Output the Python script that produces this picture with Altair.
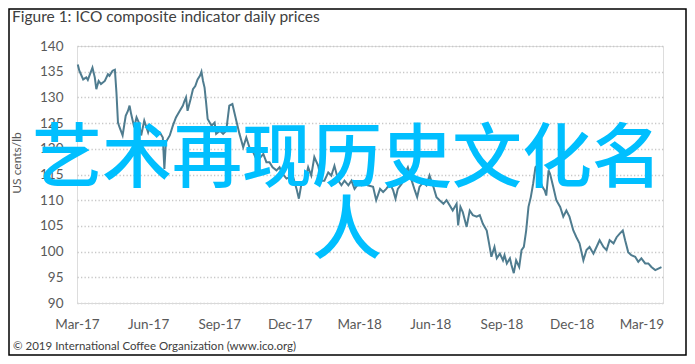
import altair as alt
import pandas as pd

# Days since 1 Mar 2017 and composite indicator price, US cents/lb
days = [1,3,8,12,14,20,23,25,28,31,36,40,42,46,49,51,53,55,59,63,
        66,68,70,72,74,77,80,83,87,92,94,98,102,107,111,113,115,120,124,128,
        133,137,139,141,143,147,150,153,156,159,161,163,165,167,169,174,178,180,185,189,
        193,197,201,206,210,215,219,223,228,232,236,241,245,249,253,258,262,266,271,275,
        279,284,287,290,295,299,303,307,312,316,320,325,329,333,338,342,346,351,355,359,
        364,368,372,376,383,387,392,396,400,405,409,412,415,420,424,428,433,437,440,443,
        448,452,456,461,465,469,474,478,482,486,491,493,496,499,504,508,512,517,521,525,
        530,533,536,540,543,547,551,553,556,560,562,565,568,572,575,578,581,584,587,590,
        593,595,599,602,605,607,610,612,616,620,625,629,633,637,642,646,650,655,659,663,
        668,672,676,681,685,689,694,698,702,706,709,713,717,722,726,730,735,739,743,748,
        752,756]
price = [136.4,135.2,133.5,133.9,133.4,135.8,133.9,131.6,133.2,132.6,
         133.2,134.5,134.2,135.2,135.4,131.0,125.1,124.2,122.6,126.4,
         127.4,128.4,126.8,125.5,124.2,126.1,125.1,122.6,125.5,123.2,
         124.2,123.2,123.5,123.2,122.2,116.1,121.3,122.6,124.5,126.1,
         127.4,128.4,129.3,130.0,127.4,129.7,131.6,132.2,133.5,134.2,
         135.0,133.2,131.9,129.0,125.8,124.5,125.1,122.9,123.5,122.9,
         123.5,128.4,128.7,125.5,123.0,120.3,122.2,120.3,119.3,118.0,
         118.1,119.0,117.4,117.4,116.4,115.8,116.4,115.1,114.2,114.5,
         114.8,112.2,110.3,112.9,113.8,116.4,114.8,118.4,116.7,113.8,
         113.8,115.4,114.8,116.7,113.8,112.9,113.8,112.9,113.8,112.2,
         113.2,112.9,113.5,112.9,112.6,110.0,112.2,111.6,112.2,113.2,
         111.9,110.3,112.2,113.2,115.1,116.4,113.8,111.9,110.6,112.6,
         113.5,112.9,114.8,112.6,110.6,110.0,109.3,110.0,109.0,108.0,
         109.3,105.1,108.7,107.7,104.8,108.0,107.1,106.8,107.1,105.4,
         104.1,101.6,99.0,100.9,98.7,99.6,98.3,99.3,97.7,98.7,
         97.4,95.8,98.3,97.0,100.3,100.9,104.1,108.7,110.6,113.2,
         116.4,116.7,113.8,112.6,111.9,110.9,115.8,115.1,112.6,110.0,
         108.7,106.8,108.0,106.8,104.1,102.8,101.6,98.3,100.3,100.9,
         99.6,100.9,102.2,100.9,100.3,102.2,101.6,102.8,103.5,104.1,
         102.2,99.9,99.3,99.0,98.0,98.7,97.7,97.7,97.0,96.4,
         96.7,97.0]

y_ticks = [90, 95, 100, 105, 110, 115, 120, 125, 130, 135, 140]
x_tick_months = [(2017, 3), (2017, 6), (2017, 9), (2017, 12), (2018, 3),
                 (2018, 6), (2018, 9), (2018, 12), (2019, 3)]

TITLE = "Figure 1: ICO composite indicator daily prices"
Y_TITLE = "US cents/lb"
FOOTER = "© 2019 International Coffee Organization (www.ico.org)"
OVERLAY = "艺术再现历史文化名\n人"

start = pd.Timestamp("2017-03-01")
dates = [(start + pd.Timedelta(days=d)).strftime("%Y-%m-%d") for d in days]
df = pd.DataFrame({"date": dates, "price": price})

W, H = 586, 257
PL, PT, PR, PB = 69, 38, 24, 53

x_enc = alt.X(
    "date:T",
    scale=alt.Scale(type="utc",
                    domain=[alt.DateTime(year=2017, month=3, date=1, utc=True),
                            alt.DateTime(year=2019, month=3, date=29, utc=True)]),
    axis=alt.Axis(
        title=None,
        values=[alt.DateTime(year=y, month=m, date=1, utc=True) for y, m in x_tick_months],
        format="%b-%y", labelFlush=False, labelOverlap=False, ticks=False,
        domain=True, domainColor="#d9d9d9", domainWidth=1.2, grid=False,
        labelPadding=14, labelFont="Lato", labelFontSize=13.5, labelColor="#595959"),
)
y_enc = alt.Y(
    "price:Q",
    scale=alt.Scale(domain=[90, 140], nice=False, zero=False),
    axis=alt.Axis(
        title=None, values=y_ticks, ticks=False, domain=False, labelFlush=False,
        labelPadding=14, labelFont="Lato", labelFontSize=13.5, labelColor="#595959",
        grid=True, gridColor="#c8c8c8", gridDash=[1.3, 2.2], gridWidth=1.3),
)

line = alt.Chart(df).mark_line(color="#4f7c8f", strokeWidth=2).encode(x=x_enc, y=y_enc)

title = alt.Chart(pd.DataFrame({"t": [TITLE]})).mark_text(
    align="left", baseline="alphabetic", font="Lato", fontSize=15.5, color="#404040"
).encode(x=alt.value(-65), y=alt.value(-24), text="t:N")

ytitle = alt.Chart(pd.DataFrame({"t": [Y_TITLE]})).mark_text(
    align="center", baseline="middle", angle=270, font="Lato", fontSize=12, color="#595959"
).encode(x=alt.value(-60), y=alt.value(117), text="t:N")

footer = alt.Chart(pd.DataFrame({"t": [FOOTER]})).mark_text(
    align="left", baseline="alphabetic", font="Lato", fontSize=11.5, color="#404040"
).encode(x=alt.value(-64), y=alt.value(304), text="t:N")

overlay = alt.Chart(pd.DataFrame({"t": [OVERLAY]})).mark_text(
    align="center", baseline="alphabetic", font="Noto Sans CJK SC", fontSize=70,
    fontWeight=500, color="#00bfff", lineBreak="\n", lineHeight=72
).encode(x=alt.value(270), y=alt.value(136), text="t:N")

border = alt.Chart(pd.DataFrame({"t": [0]})).mark_rect(
    fill=None, filled=False, stroke="#000000", strokeWidth=1.5
).encode(x=alt.value(-PL + 1), x2=alt.value(W + PR - 1),
         y=alt.value(-PT + 1), y2=alt.value(H + PB - 1))

chart = alt.layer(line, overlay, title, ytitle, footer, border).properties(
    width=W, height=H, autosize="none",
    padding={"left": PL, "top": PT, "right": PR, "bottom": PB},
).configure_view(stroke=None).configure(background="white")

chart.save("out.html", embed_options={"renderer": "svg", "actions": False})
